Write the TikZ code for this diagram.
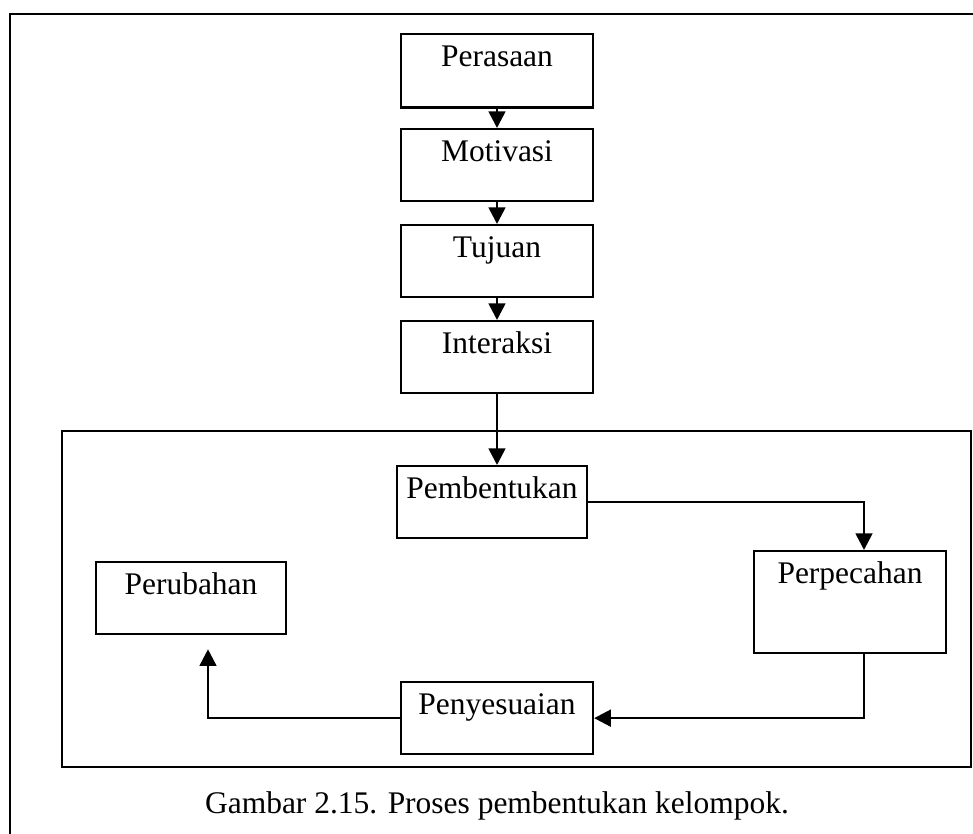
\documentclass[tikz,border=0pt]{standalone}
\usepackage{fontspec}
\setmainfont{Liberation Serif}
\usepackage{tikz}
\usetikzlibrary{positioning,arrows.meta}
\newcommand{\boxfont}{\fontsize{23.6pt}{28pt}\selectfont}
\tikzset{
  flowarrow/.style={-{Triangle[length=12.5pt, width=12.5pt]}, line width=2pt},
  stepbox/.style={draw, line width=1.7pt, anchor=north, minimum width=144pt, inner ysep=0pt, text height=24pt, text depth=30pt},
  framebox/.style={draw, line width=1.7pt},
  caption/.style={anchor=base}
}
\begin{document}
\begin{tikzpicture}[x=0.75pt, y=-0.75pt, every node/.style={font=\boxfont}]
      \useasboundingbox (0,0) rectangle (973,834);
      % outer and inner frames
      \draw[line width=2.2pt] (10,834) -- (10,14) -- (973,14);
      \draw[framebox] (62,431) rectangle (971,767);
      % chain of steps
      \node[stepbox, text depth=31pt] (perasaan) at (497,33) {Perasaan};
      \node[stepbox] (motivasi) at (497,128) {Motivasi};
      \node[stepbox] (tujuan) at (497,224) {Tujuan};
      \node[stepbox] (interaksi) at (497,320) {Interaksi};
      % cycle inside the frame
      \node[stepbox, minimum width=143pt] (pembentukan) at (492,465) {Pembentukan};
      \node[stepbox, text depth=52.5pt] (perpecahan) at (850,550) {Perpecahan};
      \node[stepbox, minimum width=142pt] (perubahan) at (191,561) {Perubahan};
      \node[stepbox] (penyesuaian) at (497,681) {Penyesuaian};
      \draw[flowarrow] (perasaan) -- (motivasi);
      \draw[flowarrow] (motivasi) -- (tujuan);
      \draw[flowarrow] (tujuan) -- (interaksi);
      \draw[flowarrow] (interaksi.south) -- (interaksi.south |- pembentukan.north);
      \draw[flowarrow] (pembentukan.east) -| ([xshift=10.5pt]perpecahan.north);
      \draw[flowarrow] ([xshift=10.5pt]perpecahan.south) |- (penyesuaian.east);
      \draw[flowarrow] (penyesuaian.west) -| ([xshift=12.75pt, yshift=-10.5pt]perubahan.south);
      \node[caption] (judul) at (497,813) {Gambar 2.15. Proses pembentukan kelompok.};
    \end{tikzpicture}
\end{document}
